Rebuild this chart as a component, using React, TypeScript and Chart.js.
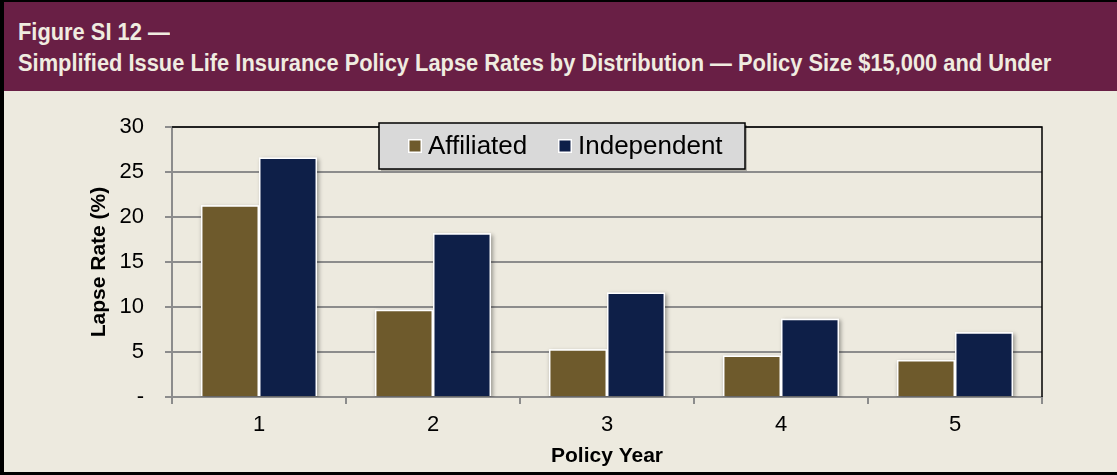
import React, { useEffect, useRef } from "react";
import { Chart, registerables } from "chart.js";

Chart.register(...registerables);

const TITLE_LINE_1 = "Figure SI 12 —";
const TITLE_LINE_2 =
  "Simplified Issue Life Insurance Policy Lapse Rates by Distribution — Policy Size $15,000 and Under";

const policyYears = ["1", "2", "3", "4", "5"];
const affiliated = [21.3, 9.7, 5.3, 4.6, 4.1];
const independent = [26.6, 18.2, 11.6, 8.7, 7.2];
const seriesNames = ["Affiliated", "Independent"];
const seriesColors = ["#6E5A2C", "#0E1F48"];

const yTicksMin = 0;
const yTicksMax = 30;
const yTicksStep = 5;

const X_TITLE = "Policy Year";
const Y_TITLE = "Lapse Rate (%)";

const CANVAS_W = 1113;
const CANVAS_H = 381;

const TICK_FONT = "'Liberation Sans Narrow', 'Arial Narrow', 'Liberation Sans', Arial, sans-serif";
const MAIN_FONT = "'Liberation Sans', Arial, sans-serif";

const barShadowPlugin = {
  id: "barShadow",
  beforeDatasetsDraw(chart: any) {
    const ctx = chart.ctx;
    const ca = chart.chartArea;
    ctx.save();
    ctx.beginPath();
    ctx.rect(ca.left, ca.top, ca.right - ca.left + 10, ca.bottom - ca.top);
    ctx.clip();
    ctx.shadowColor = "rgba(0,0,0,0.35)";
    ctx.shadowBlur = 4;
    ctx.shadowOffsetX = 1.5;
    ctx.shadowOffsetY = 1.5;
    chart.data.datasets.forEach((_ds: any, i: number) => {
      chart.getDatasetMeta(i).data.forEach((bar: any) => {
        const p = bar.getProps(["x", "y", "base", "width"], true);
        ctx.fillStyle = "#ffffff";
        ctx.fillRect(p.x - p.width / 2, p.y, p.width, p.base - p.y);
      });
    });
    ctx.restore();
  },
};

const frameAndLegendPlugin = {
  id: "frameAndLegend",
  afterDraw(chart: any) {
    const ctx = chart.ctx;
    const ca = chart.chartArea;
    ctx.save();
    ctx.strokeStyle = "#000000";
    ctx.lineWidth = 1.5;
    ctx.beginPath();
    ctx.moveTo(ca.left, ca.top);
    ctx.lineTo(ca.right, ca.top);
    ctx.lineTo(ca.right, ca.bottom);
    ctx.stroke();

    const bx = 375;
    const by = 32;
    const bw = 366;
    const bh = 46;
    ctx.fillStyle = "rgba(0,0,0,0.25)";
    ctx.fillRect(bx + 2, by + 2, bw, bh);
    ctx.fillStyle = "#D9D9D9";
    ctx.fillRect(bx, by, bw, bh);
    ctx.strokeStyle = "#000000";
    ctx.lineWidth = 1.5;
    ctx.strokeRect(bx, by, bw, bh);

    const markerX = [404, 554];
    const textX = [424, 574];
    const cy = by + bh / 2;
    ctx.font = "26px " + MAIN_FONT;
    ctx.textBaseline = "middle";
    ctx.textAlign = "left";
    chart.data.datasets.forEach((ds: any, i: number) => {
      const m = 14;
      ctx.fillStyle = "#ffffff";
      ctx.fillRect(markerX[i], cy - m / 2, m, m);
      ctx.fillStyle = ds.backgroundColor;
      ctx.fillRect(markerX[i] + 1.5, cy - m / 2 + 1.5, m - 3, m - 3);
      ctx.fillStyle = "#000000";
      ctx.fillText(ds.label, textX[i], cy + 1);
    });
    ctx.restore();
  },
};

export default function App() {
  const canvasRef = useRef<HTMLCanvasElement | null>(null);

  useEffect(() => {
    document.body.style.margin = "0";
    const canvas = canvasRef.current;
    if (!canvas) return;
    const chart = new Chart(canvas, {
      type: "bar",
      data: {
        labels: policyYears,
        datasets: [
          {
            label: seriesNames[0],
            data: affiliated,
            backgroundColor: seriesColors[0],
            borderColor: "#ffffff",
            borderWidth: 1.5,
            categoryPercentage: 0.667,
            barPercentage: 1.0,
          },
          {
            label: seriesNames[1],
            data: independent,
            backgroundColor: seriesColors[1],
            borderColor: "#ffffff",
            borderWidth: 1.5,
            categoryPercentage: 0.667,
            barPercentage: 1.0,
          },
        ],
      },
      options: {
        responsive: false,
        animation: false,
        layout: { padding: { left: 0, top: 36, right: 75, bottom: 0 } },
        plugins: {
          legend: { display: false },
          tooltip: { enabled: false },
          title: { display: false },
        },
        scales: {
          x: {
            grid: {
              display: true,
              drawOnChartArea: false,
              drawTicks: true,
              tickLength: 7,
              color: "#8C8C8C",
              lineWidth: 2,
              offset: true,
            },
            border: { display: true, color: "#8C8C8C", width: 2 },
            ticks: {
              color: "#000000",
              padding: 8,
              font: { family: TICK_FONT, size: 22 },
            },
            title: {
              display: true,
              text: X_TITLE,
              color: "#000000",
              font: { family: MAIN_FONT, size: 21, weight: "bold" },
              padding: { top: 0, bottom: 3 },
            },
            afterFit(scale: any) {
              scale.height = 75;
            },
          },
          y: {
            min: yTicksMin,
            max: yTicksMax,
            ticks: {
              stepSize: yTicksStep,
              color: "#000000",
              padding: 21,
              font: { family: TICK_FONT, size: 22 },
              callback: (v: any) => (Number(v) === 0 ? "-" : String(v)),
            },
            grid: {
              color: "#8C8C8C",
              lineWidth: 2,
              drawTicks: true,
              tickLength: 7,
            },
            border: { display: true, color: "#8C8C8C", width: 2 },
            title: {
              display: true,
              text: Y_TITLE,
              color: "#000000",
              font: { family: MAIN_FONT, size: 21, weight: "bold" },
              padding: { top: 83, bottom: 0 },
            },
            afterFit(scale: any) {
              scale.width = 168;
            },
          },
        },
      },
      plugins: [barShadowPlugin, frameAndLegendPlugin],
    });
    return () => chart.destroy();
  }, []);

  const lineStyle: React.CSSProperties = {
    position: "absolute",
    left: 14,
    lineHeight: "26px",
    whiteSpace: "nowrap",
    transform: "scaleX(0.95)",
    transformOrigin: "0 50%",
  };

  return (
    <div
      style={{
        width: 1117,
        height: 475,
        boxSizing: "border-box",
        borderLeft: "4px solid #000",
        borderTop: "2px solid #000",
        borderBottom: "3px solid #000",
        background: "#EDEADF",
        position: "relative",
        overflow: "hidden",
      }}
    >
      <div
        style={{
          height: 89,
          background: "#691F45",
          color: "#F0ECE0",
          fontFamily: MAIN_FONT,
          fontWeight: "bold",
          fontSize: 23,
          position: "relative",
        }}
      >
        <div style={{ ...lineStyle, top: 17 }}>{TITLE_LINE_1}</div>
        <div style={{ ...lineStyle, top: 48 }}>{TITLE_LINE_2}</div>
      </div>
      <canvas
        ref={canvasRef}
        width={CANVAS_W}
        height={CANVAS_H}
        style={{ display: "block", width: CANVAS_W, height: CANVAS_H }}
      />
    </div>
  );
}
